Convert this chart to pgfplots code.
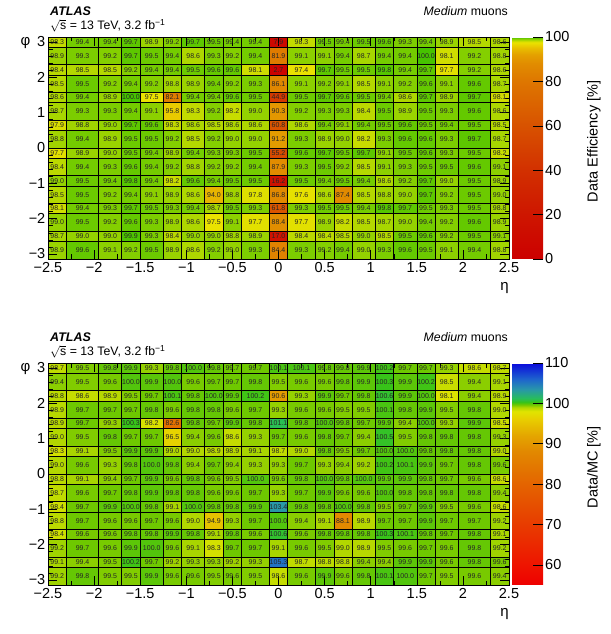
\documentclass[border=0pt]{standalone}
\usepackage{fontspec}
\setmainfont{Liberation Sans}
\usepackage{pgfplots}
\pgfplotsset{compat=1.18}

% bin edges
\def\EE{{-2.5,-2.3,-1.95,-1.7,-1.5,-1.25,-1.05,-0.8,-0.6,-0.4,-0.1,0.1,0.4,0.6,0.8,1.05,1.25,1.5,1.7,1.95,2.3,2.5}}
\def\PE{{-3.1416,-2.6416,-2.3562,-1.8562,-1.5708,-1.0708,-0.7854,-0.2854,0,0.5,0.7854,1.2854,1.5708,2.0708,2.3562,2.8562,3.1416}}

\newcommand\drawrow[2]{%
  \pgfmathsetmacro\cylo{\PE[#1]}%
  \pgfmathsetmacro\cyhi{\PE[#1+1]}%
  \pgfmathsetmacro\cyc{(\cylo+\cyhi)/2}%
  \gdef\cellPC{}\gdef\cellTC{}%
  \foreach \v [count=\i from 0] in {#2} {%
    \pgfmathsetmacro\cxlo{\EE[\i]}%
    \pgfmathsetmacro\cxhi{\EE[\i+1]}%
    \pgfmathsetmacro\cxc{(\cxlo+\cxhi)/2}%
    \xdef\cellPC{\cellPC (\cxlo,\cylo) [\v] (\cxhi,\cylo) [\v] (\cxhi,\cyhi) [\v] (\cxlo,\cyhi) [\v]}%
    \xdef\cellTC{\cellTC (\cxc,\cyc) [\v]}%
  }%
  \edef\cellcmd{\noexpand\addplot[cellpatch] coordinates {\cellPC};}\cellcmd
  \edef\cellcmd{\noexpand\addplot[celltext] coordinates {\cellTC};}\cellcmd
}

\pgfplotsset{
  colormap={effmap}{rgb255(0pt)=(204,0,0); rgb255(20pt)=(206,22,0); rgb255(40pt)=(210,48,0); rgb255(60pt)=(216,82,0); rgb255(80pt)=(222,118,0); rgb255(88pt)=(225,140,0); rgb255(92pt)=(228,160,0); rgb255(95pt)=(232,190,0); rgb255(97.5pt)=(234,226,0); rgb255(98pt)=(214,222,0); rgb255(98.5pt)=(180,216,0); rgb255(99pt)=(148,210,0); rgb255(99.5pt)=(108,202,0); rgb255(100pt)=(70,195,0)},
  colormap={sfmap}{rgb255(0pt)=(238,0,0); rgb255(5pt)=(238,20,0); rgb255(15pt)=(232,60,0); rgb255(25pt)=(228,100,0); rgb255(33pt)=(226,136,0); rgb255(37pt)=(228,165,0); rgb255(41pt)=(232,205,0); rgb255(43pt)=(225,228,0); rgb255(44pt)=(178,215,0); rgb255(44.7pt)=(110,200,0); rgb255(45.3pt)=(55,195,25); rgb255(46.2pt)=(40,190,90); rgb255(48.5pt)=(40,150,170); rgb255(51pt)=(30,100,205); rgb255(55pt)=(10,10,220)},
  cellpatch/.style={patch, patch type=rectangle, shader=faceted, faceted color=black, line width=0.6pt, point meta=explicit},
  celltext/.style={only marks, mark=*, mark size=0pt, mark options={draw=none,fill=none},
    point meta=explicit symbolic, nodes near coords, nodes near coords align={center},
    every node near coord/.append style={font=\fontsize{7}{8}\selectfont, text=black!85, inner sep=0pt}},
  heat/.style={
    scale only axis, width=461pt, height=222pt,
    xmin=-2.5, xmax=2.5, ymin=-3.1416, ymax=3.1416,
    xtick={-2.5,-2,-1.5,-1,-0.5,0,0.5,1,1.5,2,2.5},
    xticklabels={−2.5,−2,−1.5,−1,−0.5,0,0.5,1,1.5,2,2.5},
    ytick={-3,-2,-1,0,1,2,3},
    yticklabels={−3,−2,−1,0,1,2,3},
    minor x tick num=1, minor y tick num=4,
    tick align=inside, major tick length=9pt, minor tick length=4.5pt,
    tick style={black, line width=0.5pt},
    ticklabel style={font=\fontsize{14.5}{16}\selectfont},
    xticklabel style={inner sep=2pt, yshift=-1pt},
    yticklabel style={inner sep=2.5pt},
    axis on top,
    axis line style={line width=0.6pt},
    xlabel={η}, ylabel={φ},
    xlabel style={at={(rel axis cs:1,-0.105)}, anchor=north east, inner sep=0pt, font=\fontsize{15}{16}\selectfont},
    ylabel style={at={(rel axis cs:-0.038,1)}, anchor=north east, rotate=-90, inner sep=0pt, font=\fontsize{15}{16}\selectfont},
    colorbar,
    colorbar shift/.style={xshift=0pt},
    colorbar/width=31pt,
  },
  cbar/.style={
    at={(parent axis.north east)}, anchor=north west, xshift=3pt,
    width=31pt, height=222pt,
    xmin=0, xmax=1, enlargelimits=false,
    xtick=\empty, xlabel={},
    minor x tick num=0, minor y tick num=0,
    yticklabel pos=right, ytick pos=right,
    tick align=inside, ytick align=inside,
    major tick length=10pt,
    axis line style={draw=none},
    every y tick label/.style={font=\fontsize{14.5}{16}\selectfont, inner sep=2pt, anchor=west},
    every axis y label/.style={at={(rel axis cs:2.42,0.53)}, anchor=north, rotate=90, inner sep=0pt, font=\fontsize{14.5}{16}\selectfont},
  },
}

\begin{document}
\begin{tikzpicture}
\useasboundingbox (0,0) rectangle (610pt,634pt);

% ---------------- top: data efficiency ----------------
\begin{axis}[heat, name=top, at={(48pt,375pt)}, anchor=south west,
  colormap name=effmap, point meta min=0, point meta max=100,
  colorbar style={cbar, ytick={0,20,40,60,80,100}, yticklabels={0,20,40,60,80,100}, ylabel={Data Efficiency [\%]}}]
\drawrow{15}{98.3,99.4,99.4,99.7,98.9,99.2,99.7,99.5,99.4,99.4,7.9,98.3,99.5,99.4,99.5,99.6,99.3,99.4,98.9,98.5,98.6}
\drawrow{14}{98.9,99.3,99.2,99.7,99.5,99.4,98.6,99.3,99.2,99.4,81.9,99.1,99.1,99.4,98.7,99.4,99.4,100.0,98.1,99.2,98.8}
\drawrow{13}{98.4,98.5,98.5,99.2,99.4,99.4,99.5,99.6,99.6,98.1,2.7,97.4,99.7,99.5,99.5,99.8,99.4,99.7,97.7,99.2,98.6}
\drawrow{12}{98.5,99.5,99.2,99.4,99.2,98.8,98.9,99.4,99.2,99.3,86.1,99.1,99.2,99.1,98.5,99.1,99.2,99.6,99.1,99.6,98.7}
\drawrow{11}{98.6,99.4,98.9,100.0,97.5,82.1,99.4,99.4,99.6,99.5,44.9,99.5,99.7,99.6,99.5,99.4,98.6,99.7,98.9,99.7,98.1}
\drawrow{10}{98.7,99.3,99.3,99.4,99.1,95.8,98.3,99.2,98.2,99.0,90.3,99.2,99.3,99.3,98.4,99.5,98.9,99.5,99.3,99.6,98.6}
\drawrow{9}{97.9,98.8,99.0,99.7,99.6,98.3,98.6,98.5,98.6,98.6,60.8,98.6,99.4,99.1,99.4,99.5,99.6,99.5,99.4,99.5,98.5}
\drawrow{8}{98.8,99.4,98.9,99.5,99.5,99.2,98.5,99.2,99.0,99.0,91.2,99.3,98.9,99.0,98.2,99.3,99.6,99.6,99.3,99.7,98.7}
\drawrow{7}{97.7,98.9,99.0,99.5,99.4,98.9,99.4,99.3,99.3,99.5,55.2,99.6,99.7,99.5,99.7,99.1,99.5,99.6,99.3,99.5,98.2}
\drawrow{6}{98.4,99.4,99.3,99.6,99.4,99.2,98.8,99.2,99.2,99.4,87.9,99.3,99.5,99.2,98.5,99.1,99.3,99.5,99.5,99.6,99.1}
\drawrow{5}{99.0,99.5,99.4,99.8,99.4,98.2,99.6,99.4,99.5,99.5,16.2,99.5,99.4,99.5,99.4,98.6,99.2,99.7,99.0,99.5,98.9}
\drawrow{4}{98.5,99.5,99.2,99.4,99.1,98.9,98.6,94.0,98.8,97.8,86.8,97.6,98.6,87.4,98.5,98.8,99.0,99.7,99.2,99.5,99.0}
\drawrow{3}{98.1,99.4,99.3,99.7,99.5,99.3,99.4,98.7,99.5,99.3,61.8,99.3,99.5,99.5,99.4,99.8,99.7,99.5,99.3,99.5,98.8}
\drawrow{2}{99.0,99.5,99.2,99.6,99.3,98.9,98.6,97.5,99.1,97.7,88.4,97.7,98.9,98.2,98.5,98.7,99.0,99.4,99.2,99.6,98.9}
\drawrow{1}{98.7,99.0,99.0,99.9,99.3,98.4,99.0,99.0,98.8,98.9,17.0,98.4,98.4,98.5,99.0,98.5,99.5,99.6,99.2,99.5,99.1}
\drawrow{0}{98.9,99.6,99.1,99.2,99.5,98.9,98.6,99.2,99.0,99.3,84.4,99.3,99.2,99.4,99.0,99.3,99.6,99.5,99.1,99.4,98.8}
\end{axis}

% ---------------- bottom: Data/MC ----------------
\begin{axis}[heat, name=bot, at={(48pt,49pt)}, anchor=south west,
  colormap name=sfmap, point meta min=55, point meta max=110,
  colorbar style={cbar, ytick={60,70,80,90,100,110}, yticklabels={60,70,80,90,100,110}, ylabel={Data/MC [\%]}}]
\drawrow{15}{98.7,99.5,99.8,99.9,99.3,99.8,100.0,99.8,99.7,99.7,100.1,100.1,99.8,99.8,99.9,100.2,99.7,99.7,99.3,98.6,98.7}
\drawrow{14}{99.4,99.5,99.6,100.0,99.9,100.0,99.6,99.7,99.7,99.8,99.5,99.6,99.6,99.8,99.9,100.3,99.9,100.2,98.5,99.4,99.1}
\drawrow{13}{98.8,98.6,98.9,99.5,99.7,100.1,99.8,100.0,99.9,100.2,90.6,99.3,99.9,99.7,99.8,100.6,99.9,100.0,98.1,99.4,98.9}
\drawrow{12}{98.9,99.7,99.7,99.7,99.8,99.6,99.8,99.8,99.6,99.7,99.3,99.6,99.6,99.5,99.5,100.1,99.8,99.9,99.5,99.8,99.0}
\drawrow{11}{98.9,99.7,99.3,100.3,98.2,82.6,99.8,99.7,99.9,99.8,101.1,99.8,100.0,99.8,99.7,99.9,99.4,100.0,99.3,99.9,98.5}
\drawrow{10}{99.0,99.5,99.8,99.7,99.7,96.5,99.4,99.6,98.6,99.3,99.7,99.6,99.8,99.7,99.4,100.5,99.5,99.8,99.8,99.8,99.3}
\drawrow{9}{98.3,99.1,99.5,99.9,99.9,99.0,99.0,98.9,98.9,99.1,98.7,99.0,99.8,99.5,99.7,100.0,100.0,99.8,99.8,99.8,99.0}
\drawrow{8}{99.0,99.6,99.3,99.8,100.0,99.8,99.4,99.7,99.4,99.3,99.3,99.7,99.3,99.4,99.2,100.2,100.1,99.9,99.7,99.8,99.6}
\drawrow{7}{98.8,99.1,99.4,99.7,99.9,99.6,99.8,99.6,99.5,100.0,99.6,99.8,100.0,99.8,100.0,99.9,99.9,99.8,99.7,99.6,98.6}
\drawrow{6}{98.7,99.6,99.7,99.8,99.9,99.8,99.8,99.6,99.6,99.7,99.3,99.7,99.9,99.6,99.6,100.0,99.8,99.8,99.8,99.8,99.4}
\drawrow{5}{98.4,99.7,99.9,100.0,99.8,99.1,100.0,99.8,99.8,99.9,103.4,99.8,99.8,100.0,99.8,99.5,99.7,99.9,99.5,99.6,98.6}
\drawrow{4}{98.8,99.7,99.6,99.6,99.7,99.6,99.0,94.9,99.3,99.7,100.0,99.4,99.1,88.1,98.9,99.7,99.7,99.9,99.7,99.7,99.2}
\drawrow{3}{98.4,99.6,99.6,99.8,99.8,99.9,99.8,99.1,99.8,99.6,100.6,99.6,99.8,99.8,99.8,100.3,100.1,99.8,99.7,99.8,99.1}
\drawrow{2}{99.2,99.7,99.6,99.9,100.0,99.6,99.1,98.3,99.7,99.7,99.1,99.6,99.5,99.0,98.9,99.5,99.6,99.7,99.6,99.8,99.2}
\drawrow{1}{99.1,99.4,99.5,100.2,99.7,99.2,99.3,99.3,99.2,99.3,105.3,98.7,98.8,98.8,99.4,99.4,99.9,99.9,99.6,99.8,99.6}
\drawrow{0}{99.2,99.8,99.5,99.5,99.9,99.6,99.6,99.5,99.6,99.5,98.6,99.6,99.9,99.6,99.8,100.1,100.0,99.7,99.5,99.6,99.4}
\end{axis}

% header texts
\foreach \ax in {top,bot} {
  \node[anchor=base west, inner sep=0pt, font=\fontsize{12.5}{14}\selectfont\bfseries\itshape] at ([xshift=2pt,yshift=21pt]\ax.north west) {ATLAS};
  \node[anchor=base west, inner sep=0pt, font=\fontsize{12.3}{14}\selectfont] at ([xshift=2pt,yshift=7.5pt]\ax.north west) {$\sqrt{\mbox{s}}$ = 13 TeV, 3.2 fb\textsuperscript{−1}};
  \node[anchor=base east, inner sep=0pt, font=\fontsize{12.3}{14}\selectfont] at ([xshift=-1pt,yshift=21pt]\ax.north east) {\textit{Medium} muons};
}
\end{tikzpicture}
\end{document}
